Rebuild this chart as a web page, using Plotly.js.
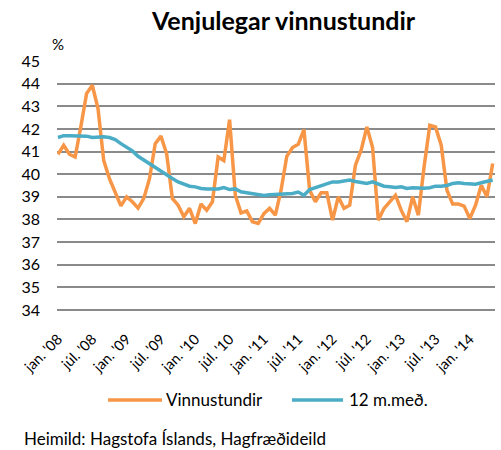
<!DOCTYPE html>
<html>
<head>
<meta charset="utf-8">
<script src="https://cdn.plot.ly/plotly-3.0.1.min.js"></script>
<style>html,body{margin:0;padding:0;background:#fff;}#chart{width:501px;height:450px;}</style>
</head>
<body>
<div id="chart"></div>
<script>
const monthNames = ["jan.","feb.","mar.","apr.","maí","jún.","júl.","ágú.","sep.","okt.","nóv.","des."];
const years = ["'08","'09","'10","'11","'12","'13","'14"];
const categories = [];
for (const y of years) for (const m of monthNames) categories.push(m + " " + y);
categories.length = 77; // jan. '08 – maí '14

const vinnustundir = [40.88,41.28,40.88,40.76,42.1,43.56,43.93,42.9,40.6,39.8,39.2,38.6,
  39.0,38.78,38.5,38.93,39.8,41.35,41.68,40.9,38.93,38.63,38.12,38.49,
  37.82,38.68,38.41,38.78,40.76,40.6,42.41,39.07,38.29,38.38,37.9,37.82,
  38.26,38.49,38.19,39.29,40.79,41.18,41.32,41.97,39.29,38.78,39.18,39.18,
  37.97,39.0,38.49,38.63,40.4,41.06,42.09,41.18,37.97,38.49,38.78,39.07,
  38.41,37.9,39.0,38.19,40.32,42.16,42.09,41.28,39.29,38.68,38.68,38.59,
  38.04,38.63,39.51,39.0,40.47];

const medaltal12 = [41.62,41.7,41.7,41.7,41.7,41.68,41.62,41.65,41.65,41.62,41.53,41.35,
  41.18,41.03,40.79,40.62,40.47,40.32,40.15,39.96,39.81,39.66,39.56,39.47,
  39.44,39.37,39.35,39.35,39.35,39.41,39.32,39.35,39.22,39.18,39.15,39.12,
  39.06,39.09,39.1,39.12,39.12,39.15,39.21,39.07,39.32,39.41,39.47,39.56,
  39.66,39.66,39.71,39.74,39.68,39.62,39.59,39.66,39.56,39.47,39.44,39.41,
  39.44,39.37,39.4,39.38,39.38,39.4,39.47,39.47,39.5,39.59,39.62,39.59,
  39.56,39.56,39.62,39.68,39.74];

const tickLabels = ["jan. '08","júl. '08","jan. '09","júl. '09","jan. '10","júl. '10","jan. '11",
  "júl. '11","jan. '12","júl. '12","jan. '13","júl. '13","jan. '14"];
const tickCats = tickLabels.map((t, k) => categories[k * 6]);

const seriesNames = ["Vinnustundir", "12 m.með."];
const colors = ["#F79646", "#4BACC6"];
const FONT = "Lato, 'Open Sans', sans-serif";

const traces = [
  {x: categories, y: vinnustundir, type: "scatter", mode: "lines", name: seriesNames[0],
   line: {color: colors[0], width: 3.5}, showlegend: false},
  {x: categories, y: medaltal12, type: "scatter", mode: "lines", name: seriesNames[1],
   line: {color: colors[1], width: 3.5}, showlegend: false}
];

const layout = {
  width: 501, height: 450,
  margin: {l: 57, r: 6, t: 61, b: 140},
  paper_bgcolor: "#fff", plot_bgcolor: "#fff",
  font: {family: FONT, color: "#000", size: 16},
  title: {text: "<b>Venjulegar vinnustundir</b>", font: {family: FONT, size: 25, color: "#000"},
          x: 0.566, xanchor: "center", y: 0.952, yanchor: "middle"},
  xaxis: {
    type: "category", categoryorder: "array", categoryarray: categories,
    range: [-0.17, 76.4], tickmode: "array", tickvals: tickCats, ticktext: tickLabels,
    tickangle: -45, tickfont: {family: FONT, size: 14.5, color: "#000"},
    showgrid: false, zeroline: false, showline: false, ticks: "", ticklabelstandoff: 17
  },
  yaxis: {
    range: [34, 45], dtick: 1, tick0: 34, showgrid: true, gridcolor: "#8a8a8a", gridwidth: 2,
    zeroline: false, showline: false, ticks: "", tickfont: {family: FONT, size: 16, color: "#000"},
    ticklabelstandoff: 16
  },
  shapes: [
    {type: "line", xref: "paper", yref: "paper", x0: -0.0, x1: 1, y0: 0, y1: 0, line: {color: "#8a8a8a", width: 2}},
    {type: "line", xref: "paper", yref: "paper", x0: (108-57)/438, x1: (162-57)/438, y0: -(400-310)/249.3, y1: -(400-310)/249.3, line: {color: colors[0], width: 3.5}},
    {type: "line", xref: "paper", yref: "paper", x0: (292-57)/438, x1: (343-57)/438, y0: -(400-310)/249.3, y1: -(400-310)/249.3, line: {color: colors[1], width: 3.5}}
  ],
  annotations: [
    {text: "%", xref: "paper", yref: "paper", x: (50-57)/438, y: 1 + (61-44)/249.3, xanchor: "left", yanchor: "middle", showarrow: false, font: {family: FONT, size: 15}},
    {text: seriesNames[0], xref: "paper", yref: "paper", x: (164-57)/438, y: -(400-310)/249.3, xanchor: "left", yanchor: "middle", showarrow: false, font: {family: FONT, size: 17}},
    {text: seriesNames[1], xref: "paper", yref: "paper", x: (347-57)/438, y: -(400-310)/249.3, xanchor: "left", yanchor: "middle", showarrow: false, font: {family: FONT, size: 17}},
    {text: "Heimild: Hagstofa Íslands, Hagfræðideild", xref: "paper", yref: "paper", x: (22-57)/438, y: -(439-310)/249.3, xanchor: "left", yanchor: "middle", showarrow: false, font: {family: FONT, size: 17}}
  ]
};

Plotly.newPlot("chart", traces, layout, {displayModeBar: false, staticPlot: true});
</script>
</body>
</html>
